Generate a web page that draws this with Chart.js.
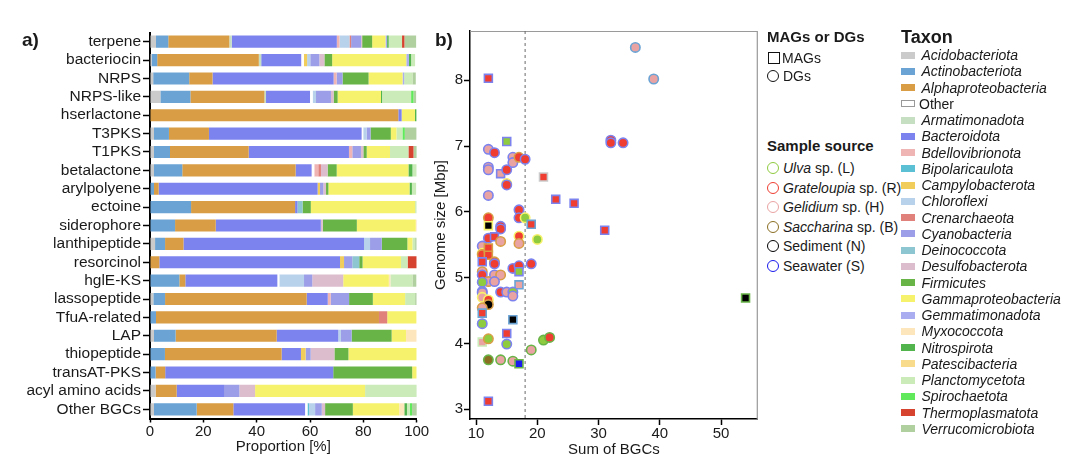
<!DOCTYPE html>
<html><head><meta charset="utf-8">
<script src="https://cdn.jsdelivr.net/npm/chart.js@4.4.0/dist/chart.umd.min.js"></script>
<style>
html,body{margin:0;padding:0;background:#fff;width:1080px;height:461px;overflow:hidden;font-family:"Liberation Sans",Arial,Helvetica,sans-serif;color:#1a1a1a}
#ca{position:absolute;left:0;top:0}
#cb{position:absolute;left:425px;top:0}
.t{position:absolute;white-space:nowrap;font-size:14px;line-height:16px}
.h{font-weight:bold;font-size:15px;line-height:17px}
.sw{position:absolute;box-sizing:border-box}
</style></head>
<body>
<canvas id="ca" width="430" height="461"></canvas>
<canvas id="cb" width="340" height="461"></canvas>
<script>
// ---------- Panel a data ----------
const categories = ["terpene","bacteriocin","NRPS","NRPS-like","hserlactone","T3PKS","T1PKS","betalactone","arylpolyene","ectoine","siderophore","lanthipeptide","resorcinol","hglE-KS","lassopeptide","TfuA-related","LAP","thiopeptide","transAT-PKS","acyl amino acids","Other BGCs"];
const proportionTicks = [0,20,40,60,80,100];
const acidobacteriota   = [2.25,0.6,1.2,3.9,0,1.5,1.5,1.5,0,0,0,1.9,0,0,1.25,0,1.5,0,0,2.1,1.5];
const actinobacteriota  = [4.6,2.1,13.5,11.25,0,5.6,6.0,10.6,1.5,15.4,9.4,3.75,0,11.0,4.4,2.25,8.1,5.6,2.1,0,16.0];
const alphaproteobacteria = [22.9,38.1,8.75,27.75,93.1,15.0,29.5,42.5,1.75,39.0,15.25,6.9,3.5,2.25,53.1,83.6,37.9,43.75,3.6,7.9,13.75];
const armatimonadota    = [0.9,0.9,0,0.6,0,0,0,0,0,0,0,0,0,0,0,0,0,0,0,0,0];
const bacteroidota      = [39.4,15.0,45.4,16.5,1.25,57.25,37.6,6.0,59.6,0.9,39.4,67.7,67.75,34.5,7.9,0,23.1,7.25,63.0,17.75,26.9];
const other             = [0,1.0,0,1.0,0,0.6,0,1.0,0,0,0,0,0,0.75,0,0,0,0,0,0,0.9];
const bdellovibrionota  = [1.0,0,1.1,0,0,0,1.25,1.5,0,0,0,0,0,0,1.1,0,0,0,0,0,0];
const bipolaricaulota   = [0,0,0,0,0,0,0,0,0,0,0,0,0,0,0,0,0,0,0,0,0.6];
const campylobacterota  = [0,1.2,0,0,0,0,0,0,0.9,0,0,0,1.5,0,0,0,0,1.75,0,0,0];
const chloroflexi       = [3.75,1.2,0,1.25,0,1.25,0,0,0,0,0,2.25,0,9.25,0,0,1.0,0,0,0,2.25];
const crenarchaeota     = [0.6,0,0,0,0,0,0,1.0,0,0,0,0,0,0,0,3.1,0,0,0,0,0];
const cyanobacteria     = [3.75,3.4,2.25,5.6,0,1.5,3.25,0,1.25,0,0,4.4,3.1,3.1,6.9,0,4.0,1.9,0,5.75,2.5];
const deinococcota      = [0,0,0,0,0,0,0,0,0,1.9,0,0,2.6,0,0,0,0,0,0,0,0];
const desulfobacterota  = [0.4,1.9,0,1.0,0,0,0.9,2.5,1.0,0,0.75,0,0,11.6,0,0,0,8.9,0,5.9,1.25];
const firmicutes        = [3.75,2.9,9.75,1.5,0,7.6,1.25,3.4,0.9,3.1,12.75,9.6,1.25,0,8.9,0,15.0,5.25,29.6,0,10.4];
const gammaproteobacteria = [5.0,27.8,12.75,16.25,5.0,2.1,8.75,26.9,30.4,39.1,22.1,1.9,14.4,17.1,12.1,11.0,5.4,25.6,1.7,41.25,17.4];
const gemmatimonadota   = [0.6,1.0,0.6,0,0,0,0,0,0,0,0,0,0,0,0,0,0,0,0,0,0];
const myxococcota       = [0,0,0,0,0,0,0,0,0,0,0.4,0,0,0.6,0,0,4.0,0,0,0,1.9];
const nitrospirota      = [0.6,0.8,0,0.4,0.6,0,0,1.5,0.9,0,0,0,0,0,0,0,0,0,0,0,1.0];
const patescibacteria   = [0,0,0,0,0,0,0,0,0,0,0,0,0,0,0,0,0,0,0,0,0];
const planctomycetota   = [5.0,1.5,3.1,10.9,0,2.25,6.9,1.6,1.6,0.6,0,1.0,2.5,8.25,3.75,0,0,0,0,19.4,1.0];
const spirochaetota     = [0,0,0,0.9,0,0.9,0,0,0,0,0,0,0,0,0,0,0,0,0,0,0.9];
const thermoplasmatota  = [0.9,0,0,0,0,0,1.9,0,0,0,0,0,3.4,0,0,0,0,0,0,0,0];
const verrucomicrobiota = [4.4,0,1.25,1.0,0,4.4,1.25,0,0,0,0,0.6,0,1.5,0.6,0,0,0,0,0,1.9];

// ---------- Panel b data ----------
const bgcSum = [36,39,12,15,32,32,34,12,13,12,12,14,15,16,16,17,18,21,15,15,12,23,26,31,17,17,18,19,12,12,14,14,12,13,14,17,17,20,11,11,11,12,12,11,13,13,11,11,13,14,12,13,11,16,17,17,19,17,11,11,14,15,16,16,11,12,12,11,11,54,16,11,15,11,12,15,19,21,22,12,14,16,17,12];
const genomeSize = [8.50,8.02,8.03,7.07,7.09,7.05,7.05,6.95,6.90,6.68,6.64,6.58,6.64,6.83,6.75,6.83,6.80,6.53,6.43,6.41,6.25,6.19,6.13,5.72,6.03,5.91,5.91,5.81,5.91,5.79,5.78,5.74,5.60,5.62,5.55,5.63,5.52,5.58,5.48,5.37,5.35,5.45,5.34,5.24,5.24,5.21,5.09,5.04,5.04,5.04,4.94,4.94,4.93,5.14,5.18,5.09,5.21,4.89,4.79,4.77,4.78,4.78,4.78,4.72,4.70,4.66,4.59,4.54,4.46,4.69,4.36,4.30,4.15,4.02,4.07,3.99,3.90,4.05,4.09,3.75,3.75,3.73,3.69,3.12];
const genomeType = ["DG","DG","MAG","MAG","DG","DG","DG","DG","DG","DG","DG","MAG","DG","DG","DG","DG","DG","MAG","DG","DG","DG","MAG","MAG","MAG","DG","DG","DG","MAG","DG","MAG","DG","DG","DG","MAG","DG","DG","DG","DG","DG","DG","DG","MAG","MAG","MAG","DG","DG","DG","DG","DG","DG","DG","DG","DG","DG","DG","MAG","DG","MAG","DG","DG","DG","DG","DG","DG","DG","DG","DG","DG","MAG","MAG","MAG","DG","MAG","MAG","DG","DG","DG","DG","DG","DG","DG","DG","MAG","MAG"];
const sampleSource = ["H","H","R","L","R","R","R","H","R","H","H","H","R","H","H","R","R","R","R","R","H","R","R","R","R","R","L","R","R","N","R","R","R","R","H","R","H","L","H","R","R","R","R","R","R","R","H","R","H","H","H","H","L","R","R","L","R","H","L","H","R","H","L","H","H","R","N","H","R","N","N","L","R","H","L","L","H","L","R","B","H","H","S","R"];
const hostTaxon = ["Actinobacteriota","Actinobacteriota","Bacteroidota","Bacteroidota","Bacteroidota","Bacteroidota","Bacteroidota","Bacteroidota","Bacteroidota","Bacteroidota","Bacteroidota","Bacteroidota","Bacteroidota","Bacteroidota","Bacteroidota","Alphaproteobacteria","Bacteroidota","Acidobacteriota","Gammaproteobacteria","Bacteroidota","Bacteroidota","Bacteroidota","Bacteroidota","Bacteroidota","Bacteroidota","Bacteroidota","Gammaproteobacteria","Actinobacteriota","Alphaproteobacteria","Gammaproteobacteria","Bacteroidota","Bacteroidota","Bacteroidota","Bacteroidota","Alphaproteobacteria","Gammaproteobacteria","Alphaproteobacteria","Gammaproteobacteria","Bacteroidota","Gammaproteobacteria","Alphaproteobacteria","Alphaproteobacteria","Alphaproteobacteria","Bacteroidota","Alphaproteobacteria","Bacteroidota","Alphaproteobacteria","Bacteroidota","Bacteroidota","Alphaproteobacteria","Alphaproteobacteria","Bacteroidota","Bacteroidota","Bacteroidota","Bacteroidota","Bacteroidota","Bacteroidota","Actinobacteriota","Bacteroidota","Bacteroidota","Bacteroidota","Bacteroidota","Bacteroidota","Bacteroidota","Gammaproteobacteria","Gammaproteobacteria","Alphaproteobacteria","Alphaproteobacteria","Actinobacteriota","Firmicutes","Actinobacteriota","Bacteroidota","Bacteroidota","Planctomycetota","Alphaproteobacteria","Bacteroidota","Firmicutes","Firmicutes","Firmicutes","Firmicutes","Firmicutes","Firmicutes","Firmicutes","Bacteroidota"];
const genomeTicks = [3,4,5,6,7,8];
const bgcTicks = [10,20,30,40,50];

// ---------- styles ----------
const taxonColors = {
  "Acidobacteriota":"#cbcbcb","Actinobacteriota":"#6aa3d4","Alphaproteobacteria":"#d89d45","Other":"#ffffff",
  "Armatimonadota":"#c6dfc2","Bacteroidota":"#7c83ee","Bdellovibrionota":"#eeb5b4","Bipolaricaulota":"#5cc0d5",
  "Campylobacterota":"#f1ce5c","Chloroflexi":"#b9d2eb","Crenarchaeota":"#e0817b","Cyanobacteria":"#9c9fe7",
  "Deinococcota":"#8dc6d1","Desulfobacterota":"#dcbdcd","Firmicutes":"#68b447","Gammaproteobacteria":"#f7f26c",
  "Gemmatimonadota":"#aaaef0","Myxococcota":"#fde6bc","Nitrospirota":"#52b44c","Patescibacteria":"#f8dc8c",
  "Planctomycetota":"#cbebb9","Spirochaetota":"#60ea5b","Thermoplasmatota":"#d64430","Verrucomicrobiota":"#b1d09f"
};
const sourceColors = {L:"#8fcb3f",R:"#ef3d31",H:"#e9a3a2",B:"#8a6e22",N:"#000000",S:"#1a1aee"};

const stackSeries = [
  ["Acidobacteriota",acidobacteriota],["Actinobacteriota",actinobacteriota],["Alphaproteobacteria",alphaproteobacteria],
  ["Armatimonadota",armatimonadota],["Bacteroidota",bacteroidota],["Other",other],["Bdellovibrionota",bdellovibrionota],
  ["Bipolaricaulota",bipolaricaulota],["Campylobacterota",campylobacterota],["Chloroflexi",chloroflexi],
  ["Crenarchaeota",crenarchaeota],["Cyanobacteria",cyanobacteria],["Deinococcota",deinococcota],
  ["Desulfobacterota",desulfobacterota],["Firmicutes",firmicutes],["Gammaproteobacteria",gammaproteobacteria],
  ["Gemmatimonadota",gemmatimonadota],["Myxococcota",myxococcota],["Nitrospirota",nitrospirota],
  ["Patescibacteria",patescibacteria],["Planctomycetota",planctomycetota],["Spirochaetota",spirochaetota],
  ["Thermoplasmatota",thermoplasmatota],["Verrucomicrobiota",verrucomicrobiota]
];
const legendTaxa = ["Acidobacteriota","Actinobacteriota","Alphaproteobacteria","Other","Armatimonadota","Bacteroidota","Bdellovibrionota","Bipolaricaulota","Campylobacterota","Chloroflexi","Crenarchaeota","Cyanobacteria","Deinococcota","Desulfobacterota","Firmicutes","Gammaproteobacteria","Gemmatimonadota","Myxococcota","Nitrospirota","Patescibacteria","Planctomycetota","Spirochaetota","Thermoplasmatota","Verrucomicrobiota"];
const sourceLegend = [["L","<i>Ulva</i> sp. (L)"],["R","<i>Grateloupia</i> sp. (R)"],["H","<i>Gelidium</i> sp. (H)"],["B","<i>Saccharina</i> sp. (B)"],["N","Sediment (N)"],["S","Seawater (S)"]];

const FONT = '"Liberation Sans", Arial, Helvetica, sans-serif';
Chart.defaults.font.family = FONT;
Chart.defaults.color = '#1a1a1a';

// ---------- Panel a ----------
new Chart(document.getElementById('ca'), {
  type: 'bar',
  data: {
    labels: categories,
    datasets: stackSeries.map(([name, vals]) => ({
      label: name, data: vals, backgroundColor: taxonColors[name], borderWidth: 0,
      barPercentage: 0.66, categoryPercentage: 1
    }))
  },
  options: {
    indexAxis: 'y', responsive: false, animation: false, devicePixelRatio: 1,
    layout: { padding: { top: 32.5, right: 13.3, left: 0, bottom: 0 } },
    plugins: { legend: { display: false }, tooltip: { enabled: false } },
    scales: {
      x: {
        stacked: true, min: 0, max: 100,
        afterFit: s => { s.height = 42.5; },
        afterBuildTicks: s => { s.ticks = proportionTicks.map(v => ({ value: v })); },
        border: { display: true, color: '#000', width: 2 },
        grid: { display: true, drawOnChartArea: false, drawTicks: true, tickLength: 4, tickColor: '#000', tickWidth: 1.5 },
        ticks: { font: { size: 15 }, color: '#1a1a1a', padding: 0, maxRotation: 0 },
        title: { display: true, text: 'Proportion [%]', font: { size: 15 }, color: '#1a1a1a', padding: { top: 0, bottom: 5 } }
      },
      y: {
        stacked: true,
        afterFit: s => { s.width = 150; },
        border: { display: true, color: '#000', width: 2 },
        grid: { display: true, offset: false, drawOnChartArea: false, drawTicks: true, tickLength: 7, tickColor: '#000', tickWidth: 1.5 },
        ticks: { font: { size: 15.5 }, color: '#1a1a1a', padding: 2, autoSkip: false }
      }
    }
  }
});

// ---------- Panel b ----------
const frameAndLine = {
  id: 'frameAndLine',
  beforeDatasetsDraw(chart) {
    const { ctx, chartArea: a, scales: { x } } = chart;
    ctx.save();
    ctx.strokeStyle = '#9a9a9a'; ctx.lineWidth = 1.2;
    ctx.beginPath();
    ctx.moveTo(a.left, a.top + 0.5); ctx.lineTo(a.right - 0.5, a.top + 0.5); ctx.lineTo(a.right - 0.5, a.bottom);
    ctx.stroke();
    const px = x.getPixelForValue(18);
    ctx.strokeStyle = '#6a6a6a'; ctx.lineWidth = 1; ctx.setLineDash([3, 3]);
    ctx.beginPath(); ctx.moveTo(px, a.top); ctx.lineTo(px, a.bottom); ctx.stroke();
    ctx.restore();
  }
};

new Chart(document.getElementById('cb'), {
  type: 'scatter',
  data: {
    datasets: [{
      data: bgcSum.map((v, i) => ({ x: v, y: genomeSize[i] })),
      pointStyle: c => genomeType[c.dataIndex] === 'MAG' ? 'rect' : 'circle',
      radius: c => genomeType[c.dataIndex] === 'MAG' ? 5.6 : 4.7,
      backgroundColor: c => sourceColors[sampleSource[c.dataIndex]],
      borderColor: c => taxonColors[hostTaxon[c.dataIndex]],
      borderWidth: 1.6
    }]
  },
  options: {
    responsive: false, animation: false, devicePixelRatio: 1,
    layout: { padding: { top: 31, right: 5, left: 0, bottom: 0 } },
    plugins: { legend: { display: false }, tooltip: { enabled: false } },
    scales: {
      x: {
        type: 'linear', min: 9, max: 56,
        afterFit: s => { s.height = 42; },
        afterBuildTicks: s => { s.ticks = bgcTicks.map(v => ({ value: v })); },
        border: { display: true, color: '#000', width: 1.5 },
        grid: { display: true, drawOnChartArea: false, drawTicks: true, tickLength: 6, tickColor: '#000', tickWidth: 1.5 },
        ticks: { font: { size: 15 }, color: '#1a1a1a', padding: 0, maxRotation: 0 },
        title: { display: true, text: 'Sum of BGCs', font: { size: 15 }, color: '#1a1a1a', padding: { top: 0, bottom: 2.5 } }
      },
      y: {
        type: 'linear', min: 2.85, max: 8.75,
        afterFit: s => { s.width = 45; },
        afterBuildTicks: s => { s.ticks = genomeTicks.map(v => ({ value: v })); },
        border: { display: true, color: '#000', width: 1.5 },
        grid: { display: true, drawOnChartArea: false, drawTicks: true, tickLength: 6, tickColor: '#000', tickWidth: 1.5 },
        ticks: { font: { size: 15 }, color: '#1a1a1a', padding: 1 },
        title: { display: true, text: 'Genome size [Mbp]', font: { size: 15 }, color: '#1a1a1a', padding: { top: 7, bottom: 0 } }
      }
    }
  },
  plugins: [frameAndLine]
});

// ---------- Legends & panel letters (HTML text) ----------
function addText(html, x, cy, cls, lh) {
  const d = document.createElement('div');
  d.className = 't ' + (cls || '');
  d.style.left = x + 'px'; d.style.top = (cy - lh / 2) + 'px';
  d.innerHTML = html; document.body.appendChild(d); return d;
}
function addSw(x, cy, w, h, css) {
  const d = document.createElement('div');
  d.className = 'sw'; d.style.left = x + 'px'; d.style.top = (cy - h / 2) + 'px';
  d.style.width = w + 'px'; d.style.height = h + 'px'; d.style.cssText += css;
  document.body.appendChild(d);
}
const pa = addText('a)', 22, 40, 'h', 22); pa.style.fontSize = '19px'; pa.style.lineHeight = '22px';
const pb = addText('b)', 435, 40, 'h', 22); pb.style.fontSize = '19px'; pb.style.lineHeight = '22px';

addText('MAGs or DGs', 767, 36, 'h', 17);
addSw(767.5, 58.3, 12, 12, 'border:1.3px solid #111;background:#fff;');
addText('MAGs', 782, 58.3, '', 16);
addSw(767, 75.7, 12.3, 12.3, 'border:1.3px solid #111;border-radius:50%;background:#fff;');
addText('DGs', 783, 75.7, '', 16);

addText('Sample source', 767, 145, 'h', 17);
const srcY = [167.7, 187.7, 206.7, 226.7, 246.2, 265.7];
sourceLegend.forEach(([k, html], i) => {
  addSw(767, srcY[i], 12.3, 12.3, 'border:1.7px solid ' + sourceColors[k] + ';border-radius:50%;');
  addText(html, 783, srcY[i], '', 16);
});

const tx = addText('Taxon', 901, 37.3, 'h', 20); tx.style.fontSize = '18px'; tx.style.lineHeight = '20px';
legendTaxa.forEach((n, i) => {
  const cy = 55 + i * 16.26;
  if (n === 'Other') {
    addSw(901, cy, 14, 7, 'border:1px solid #999;background:#fff;');
    addText('Other', 919, cy, '', 16);
  } else {
    addSw(901, cy, 14, 7, 'background:' + taxonColors[n] + ';');
    addText('<i>' + n + '</i>', 921.5, cy, '', 16);
  }
});
</script>
</body></html>
